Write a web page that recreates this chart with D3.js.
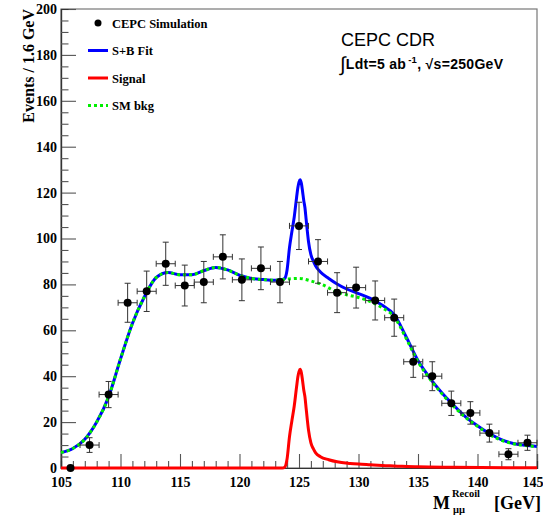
<!DOCTYPE html>
<html>
<head>
<meta charset="utf-8">
<script src="https://cdn.jsdelivr.net/npm/d3@7"></script>
<style>
  body { margin: 0; background: #fff; }
  svg { display: block; }
  .tick text { font-family: "Liberation Serif", serif; font-weight: bold; font-size: 14px; fill: #000; }
</style>
</head>
<body>
<svg width="543" height="515"></svg>
<script>
// binned simulation (1.6 GeV bins)
const binCenters = [105.8, 107.4, 109.0, 110.6, 112.2, 113.8, 115.4, 117.0, 118.6, 120.2, 121.8, 123.4,
  125.0, 126.6, 128.2, 129.8, 131.4, 133.0, 134.6, 136.2, 137.8, 139.4, 141.0, 142.6, 144.2];
const counts = [0, 10, 32, 72, 77, 89, 79.5, 81, 92, 82, 87, 81,
  105.5, 90, 76.4, 78.6, 73, 65.5, 46.3, 40, 28.2, 24, 15.2, 6, 11];
const errors = [0, 3.2, 5.7, 8.5, 8.8, 9.4, 8.9, 9, 9.6, 9.1, 9.3, 9,
  10.3, 9.5, 8.7, 8.9, 8.5, 8.1, 6.8, 6.3, 5.3, 4.9, 3.9, 2.4, 3.3];
const binHalf = 0.8;

// SM background fit
const bkgX = [105, 106, 107, 108, 109, 110, 111, 112, 113, 114, 115, 116, 117, 118, 119, 120, 121, 122, 123, 124,
  125, 126, 127, 128, 129, 130, 131, 132, 133, 134, 135, 136, 137, 138, 139, 140, 141, 142, 143, 144, 145];
const bkgY = [6.7, 8.5, 12.5, 20, 31, 47.5, 63, 74.5, 83, 85.2, 84.2, 84.2, 86, 87.4, 86.3, 84, 82.6, 82.1, 81.8, 82.3,
  82.6, 81.5, 79.8, 77.2, 75.5, 74.3, 72.5, 69.8, 65.9, 56.5, 46.3, 38.8, 32.4, 26.8, 22, 18.2, 14.6, 12.1, 10.6, 9.8, 9.3];

// signal fit
const sigX = [105, 123.6, 123.8, 124.0, 124.2, 124.4, 124.6, 124.8, 124.9, 125.0, 125.1, 125.2, 125.3, 125.4, 125.5,
  125.6, 125.7, 125.8, 126.0, 126.2, 126.4, 126.8, 127.5, 128.2, 129.3, 130, 131, 132, 133, 135, 138, 145];
const sigY = [0, 0, 0.4, 4, 13.6, 20.5, 27, 35.5, 39.5, 42, 43, 41.5, 38, 34, 31,
  26, 21, 16.5, 11, 8.4, 6.6, 4.9, 3.6, 2.7, 2.0, 1.7, 1.4, 1.1, 0.9, 0.5, 0.3, 0.1];

// S+B fit
const sbX = [105, 106, 107, 108, 109, 110, 111, 112, 113, 114, 115, 116, 117, 118, 119, 120, 121, 122, 123, 123.6,
  123.8, 124.0, 124.2, 124.4, 124.6, 124.8, 124.9, 125.0, 125.1, 125.2, 125.3, 125.4, 125.5, 125.6, 125.7, 125.8,
  126.0, 126.2, 126.4, 126.8, 127.5, 128.2, 129, 130, 131, 132, 133, 134, 135, 136, 137, 138, 139, 140, 141, 142, 143, 144, 145];
const sbY = [6.7, 8.5, 12.5, 20, 31, 47.5, 63, 74.5, 83, 85.2, 84.2, 84.2, 86, 87.4, 86.3, 84, 82.6, 82.1, 81.8, 82.1,
  82.6, 86.4, 96, 102.9, 109.4, 118, 122, 124.6, 125.6, 124, 120.5, 116.5, 113.4, 108.3, 103.2, 98.6,
  93, 90.2, 88, 85.4, 82.6, 80.2, 78, 76, 73.9, 70.9, 66.8, 57.2, 46.8, 39.2, 32.8, 27.3, 22.3, 18.4, 15, 12.4, 10.7, 9.9, 9.4];

const xTicks = [105, 110, 115, 120, 125, 130, 135, 140, 145];
const yTicks = [0, 20, 40, 60, 80, 100, 120, 140, 160, 180, 200];

const legendItems = [
  { label: "CEPC Simulation", kind: "marker" },
  { label: "S+B Fit", kind: "line", color: "#0000ff" },
  { label: "Signal", kind: "line", color: "#ff0000" },
  { label: "SM bkg", kind: "dots", color: "#00ee00" }
];

const margin = { left: 61, right: 6, top: 9, bottom: 47 };
const width = 543, height = 515;

const x = d3.scaleLinear().domain([105, 145]).range([margin.left, width - margin.right]);
const y = d3.scaleLinear().domain([0, 200]).range([height - margin.bottom, margin.top]);

const svg = d3.select("svg");
svg.append("rect").attr("width", width).attr("height", height).attr("fill", "#fff");

// frame
svg.append("rect")
  .attr("x", x(105)).attr("y", y(200))
  .attr("width", x(145) - x(105)).attr("height", y(0) - y(200))
  .attr("fill", "none").attr("stroke", "#777").attr("stroke-width", 1.2);

// axes: majors + minors, ticks pointing inward
const minorX = d3.range(105, 145.01, 1).filter(d => d % 5 !== 0);
const minorY = d3.range(0, 200.01, 5).filter(d => d % 20 !== 0);

const gx = svg.append("g").attr("transform", `translate(0,${y(0)})`);
gx.call(d3.axisBottom(x).tickValues(xTicks).tickSize(-14).tickPadding(5).tickFormat(d3.format("d")));
gx.append("g").call(d3.axisBottom(x).tickValues(minorX).tickSize(-7).tickFormat(""));

const gy = svg.append("g").attr("transform", `translate(${x(105)},0)`);
gy.call(d3.axisLeft(y).tickValues(yTicks).tickSize(-15).tickPadding(4).tickFormat(d3.format("d")));
gy.append("g").call(d3.axisLeft(y).tickValues(minorY).tickSize(-7.5).tickFormat(""));

svg.selectAll(".domain").attr("stroke", "#333").attr("stroke-width", 1.2);
svg.selectAll(".tick line").attr("stroke", "#555").attr("stroke-width", 1.1);
gx.selectAll(".tick text").attr("dy", "1em");
gx.selectAll(".tick text").filter(d => d === 145).attr("text-anchor", "end").attr("dx", 6);

// curves
const line = d3.line().x(d => x(d[0])).y(d => y(d[1])).curve(d3.curveMonotoneX);
const plot = svg.append("g");

plot.append("path").datum(d3.zip(sbX, sbY))
  .attr("d", line).attr("fill", "none").attr("stroke", "#0000ff").attr("stroke-width", 3);
plot.append("path").datum(d3.zip(sigX, sigY))
  .attr("d", line).attr("fill", "none").attr("stroke", "#ff0000").attr("stroke-width", 3);
plot.append("path").datum(d3.zip(bkgX, bkgY))
  .attr("d", line).attr("fill", "none").attr("stroke", "#00ee00").attr("stroke-width", 3)
  .attr("stroke-dasharray", "3,3");

// data points with error bars
const pts = plot.append("g").selectAll("g")
  .data(binCenters.map((c, i) => ({ c, n: counts[i], e: errors[i] })))
  .join("g");
const withErr = pts.filter(d => d.e > 0);

withErr.append("line")
  .attr("x1", d => x(d.c)).attr("x2", d => x(d.c))
  .attr("y1", d => y(d.n - d.e)).attr("y2", d => y(d.n + d.e))
  .attr("stroke", "#333").attr("stroke-width", 1);
withErr.selectAll(".cap")
  .data(d => [d.n - d.e, d.n + d.e].map(v => ({ c: d.c, v })))
  .join("line")
  .attr("x1", d => x(d.c) - 3).attr("x2", d => x(d.c) + 3)
  .attr("y1", d => y(d.v)).attr("y2", d => y(d.v))
  .attr("stroke", "#333").attr("stroke-width", 1);
withErr.append("line")
  .attr("x1", d => x(d.c - binHalf)).attr("x2", d => x(d.c + binHalf))
  .attr("y1", d => y(d.n)).attr("y2", d => y(d.n))
  .attr("stroke", "#333").attr("stroke-width", 1);
withErr.selectAll(".hcap")
  .data(d => [d.c - binHalf, d.c + binHalf].map(v => ({ v, n: d.n })))
  .join("line")
  .attr("x1", d => x(d.v)).attr("x2", d => x(d.v))
  .attr("y1", d => y(d.n) - 3).attr("y2", d => y(d.n) + 3)
  .attr("stroke", "#333").attr("stroke-width", 1);
pts.append("circle")
  .attr("cx", d => x(d.c)).attr("cy", d => y(d.n)).attr("r", 4).attr("fill", "#000");

// legend
const legend = svg.append("g");
legendItems.forEach((item, i) => {
  const ly = 23 + i * 27.5;
  if (item.kind === "marker") {
    legend.append("circle").attr("cx", 98).attr("cy", ly).attr("r", 3.5).attr("fill", "#000");
  } else {
    legend.append("line").attr("x1", 88).attr("x2", 108).attr("y1", ly).attr("y2", ly)
      .attr("stroke", item.color).attr("stroke-width", 3)
      .attr("stroke-dasharray", item.kind === "dots" ? "3,3" : null);
  }
  legend.append("text").attr("x", 112).attr("y", ly + 4.5)
    .attr("font-family", "Liberation Serif, serif").attr("font-weight", "bold").attr("font-size", 12.5)
    .text(item.label);
});

// labels
svg.append("text").attr("x", 341).attr("y", 46)
  .attr("font-family", "Liberation Sans, Arial, sans-serif").attr("font-size", 18).text("CEPC CDR");

const lumi = svg.append("text").attr("x", 340).attr("y", 69)
  .attr("font-family", "Liberation Sans, Arial, sans-serif").attr("font-weight", "bold").attr("font-size", 14)
  .attr("letter-spacing", 0.3);
lumi.append("tspan").attr("font-weight", "normal").attr("font-size", 20).attr("dy", 2).text("\u222B");
lumi.append("tspan").attr("dy", -2).text("Ldt=5 ab");
lumi.append("tspan").attr("font-size", 9.5).attr("dx", 2).attr("dy", -6).text("-1");
lumi.append("tspan").attr("dy", 6).text(",  \u221As=250GeV");

svg.append("text")
  .attr("transform", `translate(34,9) rotate(-90)`)
  .attr("text-anchor", "end")
  .attr("font-family", "Liberation Serif, serif").attr("font-weight", "bold").attr("font-size", 16)
  .text("Events / 1.6  GeV");

// x title: M^{Recoil}_{μμ} [GeV]
const xTitle = svg.append("g")
  .attr("font-family", "Liberation Serif, serif").attr("font-weight", "bold");
xTitle.append("text").attr("x", 433).attr("y", 509).attr("font-size", 18).text("M");
xTitle.append("text").attr("x", 452).attr("y", 497).attr("font-size", 10.5).text("Recoil");
xTitle.append("text").attr("x", 453).attr("y", 513).attr("font-size", 10.5).text("\u03BC\u03BC");
xTitle.append("text").attr("x", 541).attr("y", 509).attr("text-anchor", "end").attr("font-size", 18).text("[GeV]");
</script>
</body>
</html>
